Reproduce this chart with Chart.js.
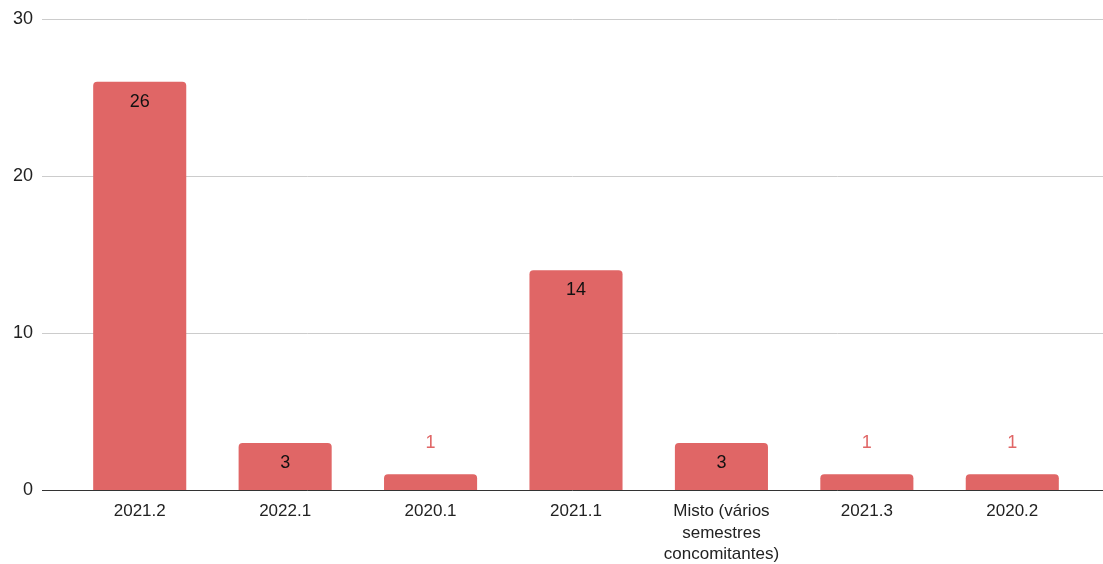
<!DOCTYPE html>
<html>
<head>
<meta charset="utf-8">
<script src="https://cdn.jsdelivr.net/npm/chart.js@4"></script>
<style>
  html, body { margin: 0; padding: 0; background: #fff; }
  #wrap { width: 1103px; height: 564px; }
</style>
</head>
<body>
<div id="wrap"><canvas id="chart"></canvas></div>
<script>
const categories = ["2021.2", "2022.1", "2020.1", "2021.1", ["Misto (vários", "semestres", "concomitantes)"], "2021.3", "2020.2"];
const values = [26, 3, 1, 14, 3, 1, 1];
const yTicks = [0, 10, 20, 30];

const barColor = "#e06666";
const fontFamily = "'Liberation Sans', Arial, sans-serif";

// gridlines run wider than the bars, like the original sheet chart
const gridPlugin = {
  id: "wideGrid",
  beforeDatasetsDraw(chart) {
    const ctx = chart.ctx;
    const y = chart.scales.y;
    ctx.save();
    yTicks.forEach(t => {
      const py = Math.round(y.getPixelForValue(t)) + 0.5;
      ctx.beginPath();
      ctx.strokeStyle = "#cccccc";
      ctx.lineWidth = 1;
      ctx.moveTo(42, py);
      ctx.lineTo(chart.width, py);
      ctx.stroke();
    });
    ctx.restore();
  },
  afterDatasetsDraw(chart) {
    const ctx = chart.ctx;
    const py = Math.round(chart.scales.y.getPixelForValue(0)) + 0.5;
    ctx.save();
    ctx.strokeStyle = "#333333";
    ctx.lineWidth = 1;
    ctx.beginPath();
    ctx.moveTo(42, py);
    ctx.lineTo(chart.width, py);
    ctx.stroke();
    ctx.restore();
  }
};

const labelPlugin = {
  id: "valueLabels",
  afterDatasetsDraw(chart) {
    const ctx = chart.ctx;
    const meta = chart.getDatasetMeta(0);
    ctx.save();
    ctx.font = "18px " + fontFamily;
    ctx.textAlign = "center";
    ctx.textBaseline = "middle";
    meta.data.forEach((bar, i) => {
      const h = bar.base - bar.y;
      if (h > 30) {
        ctx.fillStyle = "#111111";
        ctx.fillText(values[i], bar.x, bar.y + 20);
      } else {
        ctx.fillStyle = barColor;
        ctx.fillText(values[i], bar.x, bar.y - 31);
      }
    });
    ctx.restore();
  }
};

new Chart(document.getElementById("chart"), {
  type: "bar",
  data: {
    labels: categories,
    datasets: [{
      data: values,
      backgroundColor: barColor,
      borderRadius: { topLeft: 4, topRight: 4 },
      borderSkipped: "bottom",
      barPercentage: 0.64,
      categoryPercentage: 1
    }]
  },
  options: {
    responsive: true,
    maintainAspectRatio: false,
    animation: false,
    layout: { padding: { top: 19, right: 18, left: 0, bottom: 0 }, autoPadding: false },
    plugins: {
      legend: { display: false },
      tooltip: { enabled: false }
    },
    scales: {
      x: {
        afterFit(scale) { scale.height = 74; },
        grid: { display: false },
        border: { display: false },
        ticks: {
          color: "#222222",
          font: { family: fontFamily, size: 17, lineHeight: 1.25 },
          maxRotation: 0,
          autoSkip: false,
          padding: 3
        }
      },
      y: {
        min: 0,
        max: 30,
        afterFit(scale) {
          scale.width = 67;
          scale.paddingTop = 0;
          scale.paddingBottom = 0;
        },
        grid: { display: false },
        border: { display: false },
        ticks: {
          stepSize: 10,
          color: "#222222",
          font: { family: fontFamily, size: 18 },
          padding: 26
        }
      }
    }
  },
  plugins: [gridPlugin, labelPlugin]
});
</script>
</body>
</html>
